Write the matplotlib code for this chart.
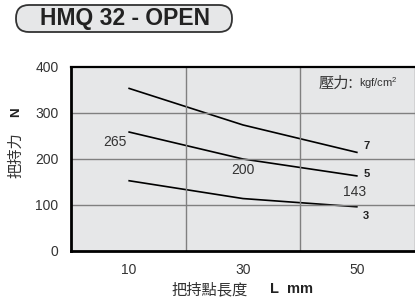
import matplotlib.pyplot as plt
from matplotlib.patches import FancyBboxPatch

plt.rcParams['font.family'] = ['Liberation Sans', 'Noto Sans CJK TC', 'DejaVu Sans']
plt.rcParams['mathtext.fontset'] = 'custom'
plt.rcParams['mathtext.rm'] = 'Liberation Sans'
plt.rcParams['mathtext.it'] = 'Liberation Sans'
CJK = ['Noto Sans CJK TC', 'DejaVu Sans']

# grip length L (mm) and grip force (N) per pressure
lengths = [10, 30, 50]
force_p7 = [354, 274, 214]
force_p5 = [259, 200, 163]
force_p3 = [153, 114, 96]
pressures = ['7', '5', '3']
pressure_label_y = [228, 167, 76]
value_notes = [(7.7, 237, '265'), (30, 176, '200'), (49.4, 128, '143')]

fig = plt.figure(figsize=(4.15, 3.04), dpi=100)
ax = fig.add_axes([71/415, 53/304, 344/415, 184/304])
ax.set_facecolor('#e6e7e8')

for ys in (force_p7, force_p5, force_p3):
    ax.plot(lengths, ys, color='black', lw=1.2, solid_capstyle='butt')

for y, name in zip(pressure_label_y, pressures):
    ax.text(51.5, y, name, fontsize=8, fontweight='bold',
            color='#222222', ha='center', va='center')

for x, y, t in value_notes:
    ax.text(x, y, t, fontsize=10, color='#333333', ha='center', va='center')

ax.text(43.1, 365, '壓力:', fontsize=11, color='#333333', ha='left', va='center', family=CJK)
ax.text(50.2, 364, r'kgf/cm$^{\mathrm{2}}$', fontsize=8, color='#333333', ha='left', va='center')

ax.set_xlim(0, 60)
ax.set_ylim(0, 400)
ax.set_xticks([10, 30, 50])
ax.set_yticks([0, 100, 200, 300, 400])
ax.tick_params(length=0, labelsize=10, colors='#333333', pad=9)

for g in (20, 40):
    ax.axvline(g, color='#808080', lw=1)
for g in (100, 200, 300):
    ax.axhline(g, color='#808080', lw=1)

ax.spines['left'].set_linewidth(2)
ax.spines['bottom'].set_linewidth(2)
ax.spines['top'].set_linewidth(1.6)
ax.spines['right'].set_linewidth(1)
ax.spines['right'].set_color('#808080')

# overlay in pixel units for the title badge and axis titles
ov = fig.add_axes([0, 0, 1, 1])
ov.set_xlim(0, 415)
ov.set_ylim(304, 0)
ov.axis('off')

ov.text(248, 290, '把持點長度', fontsize=11, color='#333333', ha='right', va='center', family=CJK)
ov.text(270, 289, 'L  mm', fontsize=10.5, fontweight='bold', color='#222222', ha='left', va='center')
ov.text(16, 155, '把持力', fontsize=11, color='#333333', rotation=90, ha='center', va='center', family=CJK)
ov.text(16, 112, 'N', fontsize=9.5, fontweight='bold', color='#222222', rotation=90,
        ha='center', va='center')

badge = FancyBboxPatch((16, 5), 216, 27, boxstyle='round,pad=0,rounding_size=13',
                       facecolor='#e6e7e8', edgecolor='#333333', lw=1.3)
ov.add_patch(badge)
ov.text(125, 19, 'HMQ 32 - OPEN', fontsize=16.5, fontweight='bold',
        color='#222222', ha='center', va='center')

fig.savefig('out.png', dpi=100)
